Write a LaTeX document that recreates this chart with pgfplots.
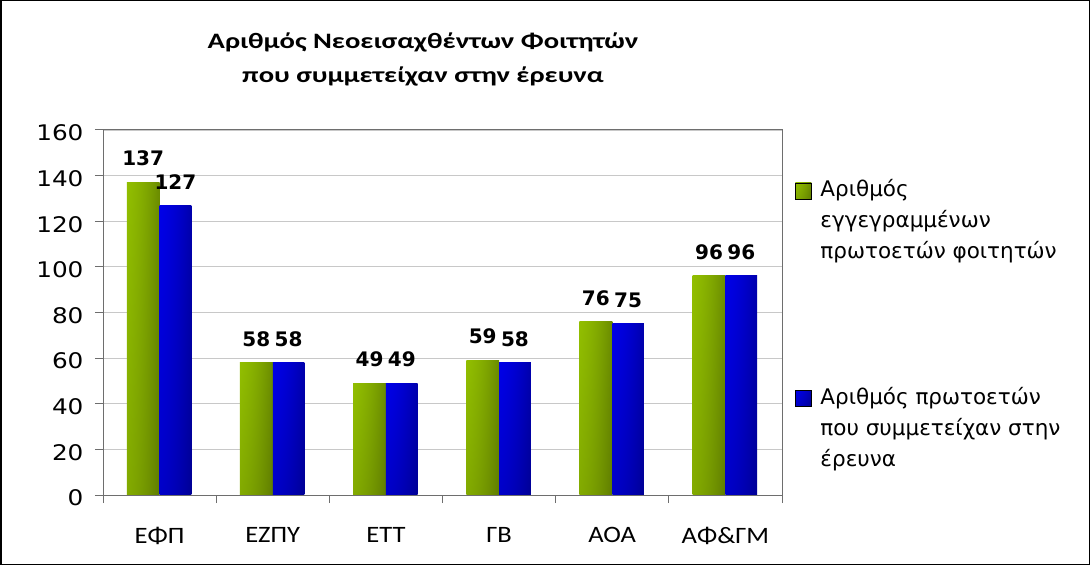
\documentclass[border=0pt]{standalone}
\usepackage{fontspec}
\setmainfont{DejaVu Sans}
\newfontfamily\titf[FakeStretch=1.3]{Carlito}
\newfontfamily\catf[FakeStretch=1.13]{Carlito}
\newfontfamily\tickf[FakeStretch=1.15]{DejaVu Sans}
\usepackage{pgfplots}
\usepackage{pgfplotstable}
\pgfplotsset{compat=1.18}
\definecolor{axc}{RGB}{110,110,110}
\definecolor{grc}{RGB}{200,200,200}

\pgfdeclarefunctionalshading{greenbar}{\pgfpoint{0bp}{0bp}}{\pgfpoint{100bp}{100bp}}{}{
  100 div 0.2 mul 0.8 add
  exch 100 div dup mul 0.52 mul 1 exch sub
  mul
  dup 0.62 mul exch 0.81 mul 0
}
\pgfdeclarefunctionalshading{bluebar}{\pgfpoint{0bp}{0bp}}{\pgfpoint{100bp}{100bp}}{}{
  100 div 0.25 mul 0.75 add
  exch 100 div dup mul 0.5 mul 1 exch sub
  mul
  0 exch 0 exch
}

\pgfplotstableread{
x a b
0 137 127
1 58 58
2 49 49
3 59 58
4 76 75
5 96 96
}\data

\begin{document}
\begin{tikzpicture}
\useasboundingbox (0,0) rectangle (1090bp,565bp);
\draw[line width=1.5bp] (0.75bp,0.75bp) rectangle (1089.25bp,564.25bp);
\node[font=\titf\bfseries\fontsize{22bp}{34bp}\selectfont, align=center] at (423bp,506bp) {Αριθμός Νεοεισαχθέντων Φοιτητών\\που συμμετείχαν στην έρευνα};
\begin{axis}[
 at={(103bp,70bp)}, anchor=south west,
 scale only axis, width=679bp, height=365bp,
 xmin=-0.5, xmax=5.5, ymin=0, ymax=160,
 axis line style={axc, line width=1bp},
 tick pos=left,
 xtick={0,...,5},
 xticklabels={ΕΦΠ,ΕΖΠΥ,ΕΤΤ,ΓΒ,ΑΟΑ,ΑΦ\&ΓΜ},
 x tick label style={font=\catf\fontsize{23.5bp}{27bp}\selectfont, yshift=-21bp},
 xtick style={draw=none},
 extra x ticks={-0.5,0.5,1.5,2.5,3.5,4.5,5.5},
 extra x tick labels={},
 extra x tick style={tick align=outside, major tick length=8bp, xtick style={draw=axc, line width=1bp}},
 ytick={0,20,...,160},
 y tick label style={font=\tickf\fontsize{21.5bp}{25bp}\selectfont, yshift=-3bp, xshift=-8bp},
 /pgf/number format/assume math mode=true,
 ytick style={draw=axc, line width=1bp},
 tick align=outside, major tick length=8bp,
 ymajorgrids, grid style={grc, line width=0.8bp},
 every node near coord/.append style={font=\bfseries\fontsize{20bp}{24bp}\selectfont, inner sep=0pt, yshift=16bp, text=black},
 legend style={at={(1.019,0.882)}, anchor=north west, draw=none, fill=none, inner sep=0pt,
   row sep=180bp, column sep=7bp, cells={anchor=base west},
   font=\fontsize{21.5bp}{31bp}\selectfont},
]
\pgfplotsinvokeforeach{0,...,5}{
\addplot[ybar, bar width=0.29, bar shift=-0.145, draw=none, shading=greenbar, forget plot,
  restrict x to domain=#1:#1] table[x=x,y=a]{\data};
\addplot[ybar, bar width=0.28, bar shift=0.14, draw=none, shading=bluebar, forget plot,
  restrict x to domain=#1:#1] table[x=x,y=b]{\data};
}
\addplot[draw=none, mark=none, forget plot, nodes near coords] table[x expr=\thisrow{x}-0.145, y=a]{\data};
\addplot[draw=none, mark=none, forget plot, nodes near coords] table[x expr=\thisrow{x}+0.14, y=b]{\data};
\addlegendimage{legend image code/.code={\path[shading=greenbar] (0bp,-2bp) rectangle (16bp,14bp);}}
\addlegendentry{\begin{tabular}[t]{@{}l@{}}Αριθμός\\εγγεγραμμένων\\πρωτοετών φοιτητών\end{tabular}}
\addlegendimage{legend image code/.code={\path[shading=bluebar] (0bp,-2bp) rectangle (16bp,14bp);}}
\addlegendentry{\begin{tabular}[t]{@{}l@{}}Αριθμός πρωτοετών\\που συμμετείχαν στην\\έρευνα\end{tabular}}
\end{axis}
\end{tikzpicture}
\end{document}
